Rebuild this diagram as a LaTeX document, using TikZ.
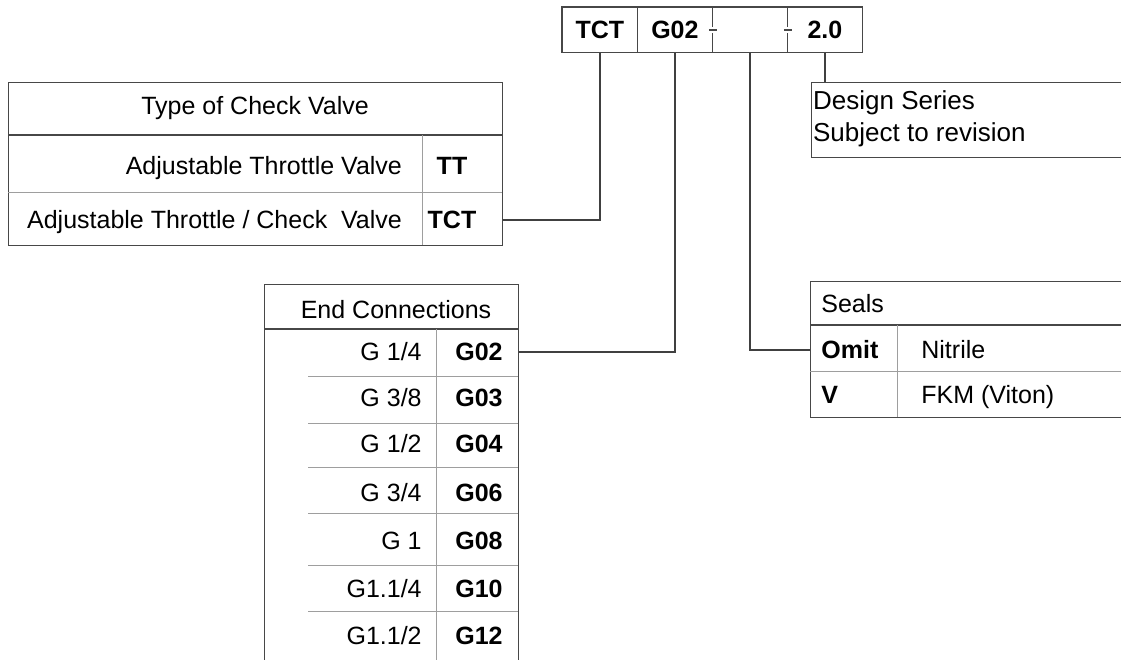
\documentclass[tikz,border=0pt]{standalone}
\usepackage{fontspec}
\setmainfont{Liberation Sans}

\tikzset{every picture/.style={line width=0.75pt}}
\tikzset{
  boxline/.style={draw=black!72, line width=1.3pt},
  gridline/.style={draw=black!38, line width=1pt},
  leader/.style={draw=black!75, line width=1.3pt},
  tabframe/.style={boxline, rectangle, inner sep=0pt, anchor=north west},
  lbl/.style={inner sep=0.75pt, text height=17pt, text depth=0pt, font=\fontsize{25}{30}\selectfont},
  codelbl/.style={lbl, font=\fontsize{25}{30}\selectfont\bfseries},
  codecell/.style={codelbl, minimum width=75pt, minimum height=45pt, anchor=north west},
}

\begin{document}
\begin{tikzpicture}[x=1pt,y=1pt,yscale=-1,xscale=1]
\useasboundingbox (0,0) rectangle (1121,659);

% Order code
\node[codecell] (cTCT) at (562,7) {TCT};
\node[codecell] (cG02) at (637,7) {G02};
\node[codecell] (cSeal) at (712,7) {};
\node[codecell] (cSer) at (787,7) {2.0};
\draw[boxline] (cTCT.north west) rectangle (cSer.south east);
\draw[boxline] (cTCT.north east) -- (cTCT.south east);
%Broken dividers
\draw[boxline] (cG02.north east) -- ++(0,20) (cG02.south east) -- ++(0,-20);
\draw[boxline] ([xshift=-4pt]cG02.east) -- ([xshift=4pt]cG02.east);
\draw[boxline] (cSeal.north east) -- ++(0,20) (cSeal.south east) -- ++(0,-20);
\draw[boxline] ([xshift=-4pt]cSeal.east) -- ([xshift=4pt]cSeal.east);

% Type of Check Valve
\node[tabframe, minimum width=494pt, minimum height=163pt] (typetab) at (8,82) {};
\draw[boxline] (8,135) -- (502,135);
\draw[gridline] (8,192) -- (502,192);
\draw[gridline] (422,135) -- (422,245);
\node[lbl] (typehead) at (255,106) {Type of Check Valve};
\node[lbl, anchor=east] (typeTT) at (403,166) {Adjustable Throttle Valve};
\node[lbl, anchor=east] (typeTCT) at (403,220) {Adjustable Throttle / Check\ \ Valve};
\node[codelbl] (codeTT) at (452,166) {TT};
\node[codelbl] (codeTCT) at (452,220) {TCT};

% End Connections
\node[tabframe, minimum width=254pt, minimum height=420pt] (endtab) at (264,284) {};
\draw[boxline] (264,329) -- (518,329);
\draw[gridline] (436,329) -- (436,700);
\foreach \y in {376,423,467,513,565,611}
  \draw[gridline] (308,\y) -- (518,\y);
\node[lbl] (endhead) at (396,310) {End Connections};
\foreach \y/\sz/\cd [count=\i] in {352/{G 1/4}/G02, 398/{G 3/8}/G03, 444/{G 1/2}/G04,
    493/{G 3/4}/G06, 541/{G 1}/G08, 589/{G1.1/4}/G10, 636/{G1.1/2}/G12}{
  \node[lbl, anchor=east] (endsz\i) at (422.75,\y) {\sz};
  \node[codelbl] (endcd\i) at (479,\y) {\cd};
}

% Seals
\node[tabframe, minimum width=400pt, minimum height=136pt] (sealtab) at (810,281) {};
\draw[boxline] (810,325) -- (1210,325);
\draw[gridline] (810,371) -- (1210,371);
\draw[gridline] (897,325) -- (897,417);
\node[lbl, anchor=west] (sealhead) at (820.25,304) {Seals};
\node[codelbl, anchor=west] (sealOmit) at (820.25,350) {Omit};
\node[lbl, anchor=west] (sealNBR) at (920.25,350) {Nitrile};
\node[codelbl, anchor=west] (sealV) at (820.25,395) {V};
\node[lbl, anchor=west] (sealFKM) at (920.25,395) {FKM (Viton)};

% Design Series
\node[tabframe, minimum width=400pt, minimum height=75pt] (designbox) at (811,82) {};
\node[lbl, anchor=west, font=\fontsize{26}{31}\selectfont] (designL1) at (812,100.5) {Design Series};
\node[lbl, anchor=west, font=\fontsize{26}{31}\selectfont] (designL2) at (812,132.5) {Subject to revision};

% Leaders
\draw[leader] (typetab.east |- codeTCT) -| (cTCT.south);
\draw[leader] (endtab.east |- endcd1) -| (cG02.south);
\draw[leader] (cSeal.south) |- (sealtab.west |- sealOmit);
\draw[leader] (cSer.south) -- (cSer.south |- designbox.north);

\end{tikzpicture}
\end{document}
